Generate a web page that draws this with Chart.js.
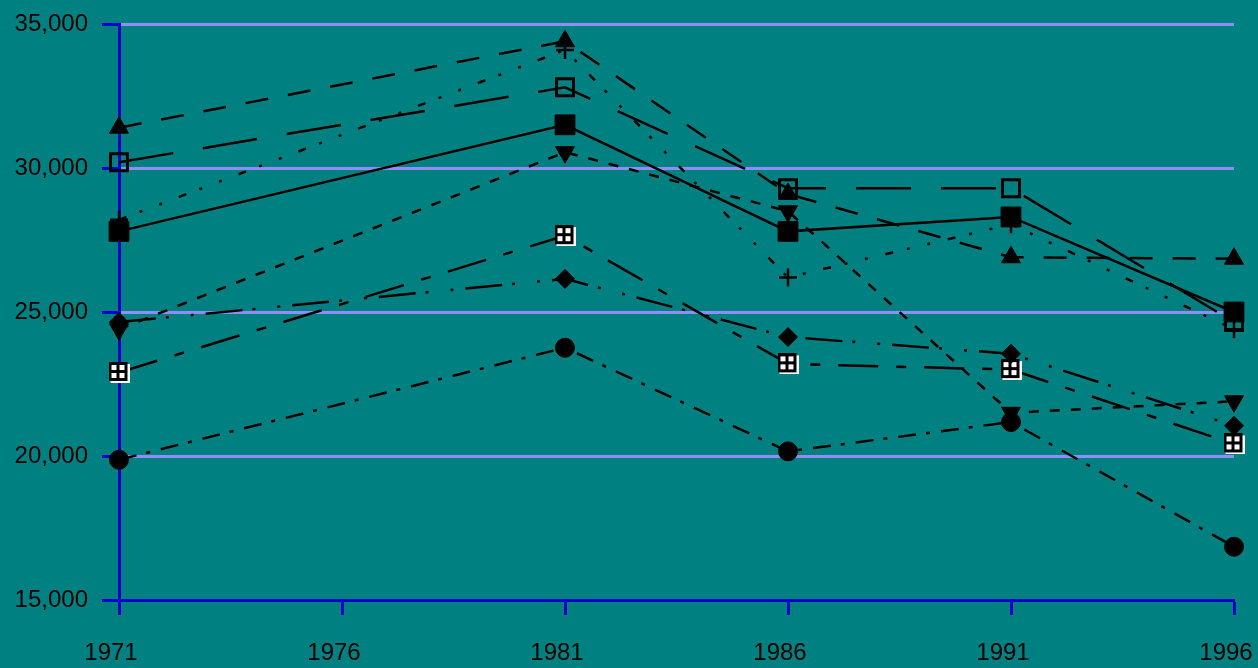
<!DOCTYPE html>
<html>
<head>
<meta charset="utf-8">
<script src="https://cdn.jsdelivr.net/npm/chart.js@4/dist/chart.umd.min.js"></script>
<style>
  html, body { margin: 0; padding: 0; background: #008080; }
  #wrap { width: 1258px; height: 668px; }
</style>
</head>
<body>
<div id="wrap"><canvas id="canvas" width="1258" height="668"></canvas></div>
<script>
// values
let years    = [1971, 1981, 1986, 1991, 1996];
let triUp    = [31400, 34400, 29100, 26900, 26850];
let openSq   = [30200, 32800, 29300, 29300, 24650];
let fillSq   = [27800, 31500, 27800, 28300, 25000];
let plus     = [28200, 34100, 26200, 28050, 24400];
let triDown  = [24400, 30550, 28500, 21500, 21900];
let diamond  = [24650, 26150, 24130, 23550, 21050];
let gridSq   = [22900, 27650, 23200, 23000, 20420];
let circle   = [19870, 23760, 20160, 21180, 16850];

let xTicks = [1971, 1976, 1981, 1986, 1991, 1996];
let yMin = 15000, yMax = 35000, yStep = 5000;

// little boxed-grid marker
let box = document.createElement('canvas');
box.width = 21; box.height = 21;
let b = box.getContext('2d');
b.fillStyle = '#fff'; b.fillRect(2, 2, 19, 19);
b.fillStyle = '#000'; b.fillRect(0, 0, 19, 19);
b.fillStyle = '#fff';
b.fillRect(3, 3, 5, 5); b.fillRect(11, 3, 5, 5);
b.fillRect(3, 11, 5, 5); b.fillRect(11, 11, 5, 5);

function pts(vals) {
  return vals.map((v, i) => ({ x: years[i], y: v }));
}

function series(vals, dash, style, radius, extra) {
  return Object.assign({
    data: pts(vals),
    borderColor: '#000',
    borderWidth: 2.5,
    borderDash: dash,
    pointStyle: style,
    pointRadius: radius,
    pointBackgroundColor: '#000',
    pointBorderColor: '#000',
    pointBorderWidth: 1,
    tension: 0,
    clip: false
  }, extra || {});
}

let bg = {
  id: 'bg',
  beforeDraw(chart) {
    let c = chart.ctx;
    c.save();
    c.fillStyle = '#008080';
    c.fillRect(0, 0, chart.width, chart.height);
    c.restore();
  }
};

let blue = '#0000cc';
let grid = '#8e8ef8';

let options = {
  type: 'line',
  data: {
    datasets: [
      series(triUp,   [23, 20], 'triangle', 11),
      series(openSq,  [55, 30], 'rect', 12, { pointBackgroundColor: 'rgba(0,0,0,0)', pointBorderWidth: 3 }),
      series(fillSq,  [], 'rect', 14),
      series(plus,    [8, 14, 3, 18, 3, 18], 'cross', 9, { pointBorderWidth: 2.5 }),
      series(triDown, [10, 11], 'triangle', 11, { pointRotation: 180 }),
      series(diamond, [37, 10, 3, 22, 3, 12], 'rectRot', 9.5),
      series(gridSq,  [40, 18, 10, 18], box, 10),
      series(circle,  [18, 10, 4, 11], 'circle', 9.5)
    ]
  },
  options: {
    responsive: false,
    animation: false,
    events: [],
    layout: { padding: { top: 24, right: 24, left: 0, bottom: 0 } },
    plugins: { legend: { display: false }, tooltip: { enabled: false } },
    scales: {
      x: {
        type: 'linear',
        min: years[0],
        max: years[years.length - 1],
        afterBuildTicks: s => { s.ticks = xTicks.map(v => ({ value: v })); },
        afterFit: s => { s.height = 68; s.paddingLeft = 0; s.paddingRight = 0; },
        ticks: {
          color: '#000',
          font: { family: 'Liberation Sans', size: 24 },
          padding: 24,
          labelOffset: -8,
          maxRotation: 0,
          callback: v => String(v)
        },
        grid: {
          drawOnChartArea: false,
          drawTicks: true,
          tickLength: 15,
          tickColor: blue,
          tickWidth: 3
        },
        border: { color: blue, width: 3 }
      },
      y: {
        min: yMin,
        max: yMax,
        afterFit: s => { s.width = 119; s.paddingTop = 0; s.paddingBottom = 0; },
        ticks: {
          stepSize: yStep,
          color: '#000',
          font: { family: 'Liberation Sans', size: 24 },
          padding: 14,
          callback: v => v.toLocaleString('en-US')
        },
        grid: {
          color: grid,
          lineWidth: 3,
          tickLength: 17,
          tickColor: blue,
          tickWidth: 3
        },
        border: { color: blue, width: 3 }
      }
    }
  },
  plugins: [bg]
};

let chart = new Chart(document.getElementById('canvas'), options);
</script>
</body>
</html>
